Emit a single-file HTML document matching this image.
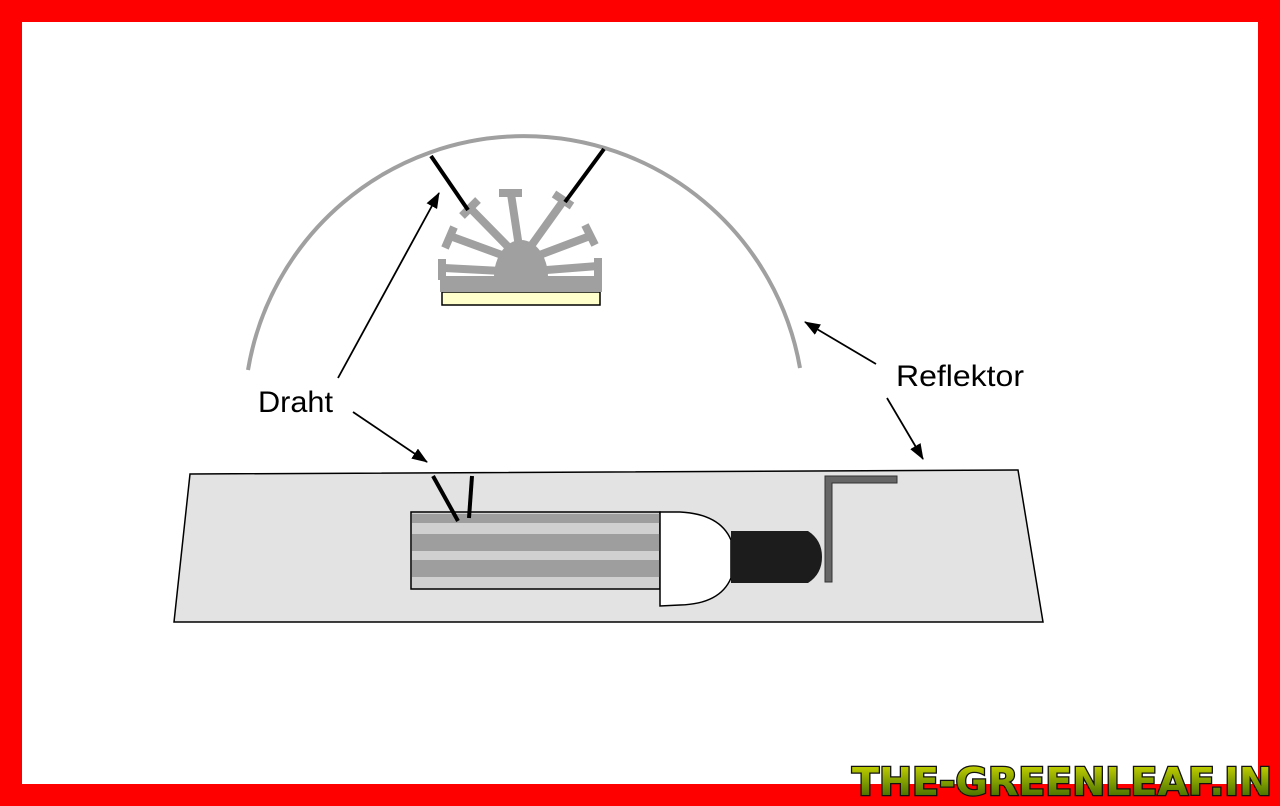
<!DOCTYPE html>
<html><head><style>
body{margin:0;background:#f00;}
svg{display:block}
</style></head><body>
<svg width="1280" height="806" xmlns="http://www.w3.org/2000/svg">
<defs>
<marker id="ah" markerWidth="16" markerHeight="12" refX="15" refY="6" orient="auto" markerUnits="userSpaceOnUse">
<path d="M0,0 L16,6 L0,12 Z" fill="#000"/></marker>
<linearGradient id="gg" x1="0" y1="0" x2="0" y2="1"><stop offset="0" stop-color="#d8e000"/><stop offset="1" stop-color="#2a5a00"/></linearGradient>
</defs>
<rect x="0" y="0" width="1280" height="806" fill="#f00"/>
<rect x="22" y="22" width="1236" height="762" fill="#fff"/>
<path d="M248,370 A280,280 0 0 1 800,368" fill="none" stroke="#a0a0a0" stroke-width="4"/>
<!-- chip -->
<rect x="442" y="292" width="158" height="13" fill="#ffffcc" stroke="#000" stroke-width="1.5"/>
<g fill="#a0a0a0">
<rect x="440" y="276" width="162" height="16"/>
<path d="M494,277 A27,37 0 0 1 548,277 Z"/>
<g stroke="#a0a0a0" stroke-width="8" stroke-linecap="butt">
<line x1="521" y1="260" x2="511" y2="194"/><line x1="499" y1="193" x2="522" y2="193"/>
<line x1="521" y1="260" x2="470" y2="208"/><line x1="462" y1="216" x2="478" y2="200"/>
<line x1="521" y1="262" x2="450" y2="236"/><line x1="445" y1="248" x2="454" y2="227"/>
<line x1="521" y1="272" x2="444" y2="268"/><line x1="442" y1="259" x2="442" y2="280"/>
<line x1="521" y1="260" x2="564" y2="200"/><line x1="554" y1="194" x2="572" y2="206"/>
<line x1="521" y1="262" x2="590" y2="236"/><line x1="585" y1="225" x2="595" y2="245"/>
<line x1="521" y1="272" x2="598" y2="266"/><line x1="598" y1="258" x2="598" y2="280"/>
</g></g>
<line x1="431" y1="156" x2="468" y2="210" stroke="#000" stroke-width="4"/>
<line x1="604" y1="149" x2="565" y2="202" stroke="#000" stroke-width="4"/>
<!-- platform -->
<polygon points="190,474 1018,470 1043,622 174,622" fill="#e3e3e3" stroke="#000" stroke-width="1.5"/>
<rect x="411" y="512" width="249" height="77" fill="#d0d0d0" stroke="#000" stroke-width="1.5"/>
<rect x="412" y="514" width="248" height="9" fill="#9e9e9e"/>
<rect x="412" y="534" width="248" height="17" fill="#9e9e9e"/>
<rect x="412" y="560" width="248" height="17" fill="#9e9e9e"/>
<path d="M660,512 L680,512 Q720,514 731,540 L731,578 Q720,604 680,605 L660,606 Z" fill="#fff" stroke="#000" stroke-width="1.5"/>
<path d="M731,531 L808,531 Q822,540 822,557 Q822,574 808,583 L731,583 Z" fill="#1c1c1c"/>
<path d="M825,582 L825,476 L897,476 L897,483 L832,483 L832,582 Z" fill="#666" stroke="#333" stroke-width="1"/>
<line x1="433" y1="476" x2="458" y2="521" stroke="#000" stroke-width="4"/>
<line x1="472" y1="476" x2="469" y2="518" stroke="#000" stroke-width="4"/>
<!-- arrows -->
<g stroke="#000" stroke-width="1.8" fill="none">
<line x1="338" y1="378" x2="439" y2="193" marker-end="url(#ah)"/>
<line x1="353" y1="412" x2="427" y2="462" marker-end="url(#ah)"/>
<line x1="876" y1="364" x2="805" y2="322" marker-end="url(#ah)"/>
<line x1="887" y1="398" x2="923" y2="459" marker-end="url(#ah)"/>
</g>
<text x="258" y="412" font-family="Liberation Sans, sans-serif" font-size="30" textLength="75" lengthAdjust="spacingAndGlyphs">Draht</text>
<text x="896" y="386" font-family="Liberation Sans, sans-serif" font-size="30" textLength="128" lengthAdjust="spacingAndGlyphs">Reflektor</text>
<rect x="840" y="752" width="418" height="54" fill="#fff"/>
<rect x="840" y="784" width="440" height="22" fill="#f00"/>
<rect x="1258" y="752" width="22" height="54" fill="#f00"/>
<text x="852" y="795" font-family="DejaVu Sans, sans-serif" font-weight="bold" font-size="38" fill="url(#gg)" stroke="#111" stroke-width="2.5" textLength="420" lengthAdjust="spacingAndGlyphs" paint-order="stroke">THE-GREENLEAF.IN</text>
</svg>
</body></html>
